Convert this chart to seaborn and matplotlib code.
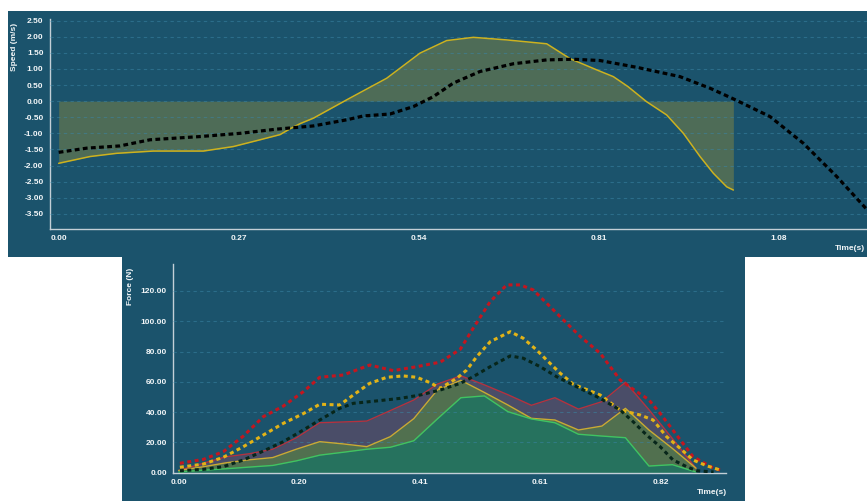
import numpy as np
import pandas as pd
import matplotlib
matplotlib.use("Agg")
import matplotlib.pyplot as plt
import seaborn as sns
from matplotlib.ticker import FixedLocator, FixedFormatter

sns.set_style("white")
plt.rcParams["font.family"] = ["Liberation Sans", "DejaVu Sans"]
plt.rcParams["font.weight"] = "bold"

# ---------------- speed panel data ----------------
speed_t = [0.000, 0.047, 0.087, 0.142, 0.217, 0.262, 0.302, 0.332, 0.347, 0.362,
           0.382, 0.432, 0.492, 0.542, 0.582, 0.622, 0.672, 0.732, 0.767, 0.807,
           0.832, 0.854, 0.882, 0.912, 0.937, 0.962, 0.982, 1.002, 1.012]
speed_v = [-1.93, -1.72, -1.62, -1.55, -1.55, -1.41, -1.20, -1.04, -0.86, -0.70,
           -0.53, 0.04, 0.71, 1.49, 1.88, 1.98, 1.90, 1.78, 1.32, 0.97,
           0.76, 0.45, -0.02, -0.43, -1.00, -1.72, -2.24, -2.66, -2.76]

ref_speed_t = [0.000, 0.042, 0.092, 0.137, 0.212, 0.272, 0.327, 0.382, 0.432, 0.457,
               0.497, 0.532, 0.562, 0.592, 0.632, 0.682, 0.732, 0.772, 0.812, 0.867,
               0.932, 0.977, 1.012, 1.067, 1.117, 1.167, 1.213]
ref_speed_v = [-1.59, -1.46, -1.39, -1.20, -1.10, -1.00, -0.87, -0.77, -0.58, -0.46,
               -0.40, -0.17, 0.14, 0.56, 0.92, 1.16, 1.28, 1.30, 1.26, 1.05,
               0.76, 0.40, 0.07, -0.48, -1.31, -2.34, -3.38]

speed_yticks = [2.5, 2.0, 1.5, 1.0, 0.5, 0.0, -0.5, -1.0, -1.5, -2.0, -2.5, -3.0, -3.5]
speed_xticks = [0.00, 0.27, 0.54, 0.81, 1.08]
speed_xlabels = ["0.00", "0.27", "0.54", "0.81", "1.08"]
speed_xminor = [0.135, 0.405, 0.675, 0.945, 1.215]

# ---------------- force panel data ----------------
force_t = [0.00, 0.04, 0.08, 0.12, 0.16, 0.20, 0.24, 0.28, 0.32, 0.36, 0.40, 0.44,
           0.48, 0.52, 0.56, 0.60, 0.64, 0.68, 0.72, 0.76, 0.80, 0.84, 0.88]
force_red = [1.5, 6.0, 10.5, 12.5, 15.5, 23.0, 33.0, 33.5, 34.1, 41.0, 48.0, 58.5,
             64.0, 58.0, 51.5, 44.5, 49.5, 42.0, 46.9, 59.7, 41.6, 22.5, 2.9]
force_yellow = [1.5, 3.8, 6.5, 8.5, 10.0, 15.5, 20.5, 19.0, 17.2, 23.8, 35.7, 54.6,
                61.0, 53.0, 44.7, 35.9, 34.8, 28.2, 30.8, 42.5, 28.2, 16.0, 3.0]
force_green = [0.5, 1.6, 2.6, 3.7, 4.8, 7.8, 11.6, 13.5, 15.5, 16.8, 21.1, 35.5,
               49.5, 50.7, 40.3, 35.5, 33.0, 25.4, 24.2, 23.1, 4.4, 5.3, 0.5]

ref_red_t = [0.002, 0.042, 0.076, 0.110, 0.144, 0.178, 0.212, 0.240, 0.280, 0.325,
             0.365, 0.405, 0.445, 0.479, 0.501, 0.530, 0.558, 0.581, 0.603, 0.632,
             0.660, 0.683, 0.717, 0.751, 0.779, 0.799, 0.819, 0.847, 0.875, 0.910, 0.926]
ref_red_v = [6.2, 8.8, 13.9, 24.2, 37.0, 44.0, 53.5, 63.0, 64.5, 71.1,
             67.4, 70.0, 73.0, 81.5, 95.4, 113.0, 124.0, 124.0, 120.7, 109.6,
             98.7, 90.0, 78.9, 61.2, 53.5, 48.5, 39.2, 24.9, 10.6, 2.9, 1.3]

ref_yellow_t = [0.002, 0.042, 0.076, 0.110, 0.144, 0.178, 0.212, 0.240, 0.274, 0.297,
                0.325, 0.354, 0.382, 0.405, 0.428, 0.445, 0.473, 0.490, 0.507, 0.530,
                0.564, 0.586, 0.609, 0.626, 0.649, 0.671, 0.717, 0.751, 0.785, 0.807,
                0.830, 0.853, 0.875, 0.898, 0.921]
ref_yellow_v = [3.6, 5.7, 10.2, 17.2, 24.9, 32.6, 39.0, 45.2, 44.7, 51.3,
                59.0, 63.0, 63.9, 63.0, 59.4, 55.7, 62.3, 67.8, 76.6, 86.5,
                93.1, 88.8, 81.0, 74.4, 65.7, 58.5, 51.3, 41.4, 38.1, 34.8,
                23.8, 16.1, 8.4, 4.6, 1.8]

ref_dark_t = [0.002, 0.042, 0.076, 0.110, 0.144, 0.178, 0.212, 0.240, 0.274, 0.297,
              0.337, 0.377, 0.411, 0.445, 0.479, 0.501, 0.530, 0.564, 0.586, 0.615,
              0.643, 0.677, 0.717, 0.751, 0.773, 0.796, 0.819, 0.841, 0.864, 0.881, 0.910]
ref_dark_v = [1.3, 2.2, 4.0, 8.4, 14.3, 20.5, 28.2, 34.8, 42.5, 45.8,
              47.4, 49.1, 51.3, 54.6, 59.0, 63.4, 70.0, 77.1, 75.6, 70.0,
              63.4, 56.8, 49.1, 41.4, 33.7, 24.9, 17.2, 8.4, 4.0, 1.3, 0.5]

force_yticks = [0, 20, 40, 60, 80, 100, 120]
force_xticks = [0.0, 0.205, 0.41, 0.615, 0.82]
force_xlabels = ["0.00", "0.20", "0.41", "0.61", "0.82"]
force_xminor = [0.1025, 0.3075, 0.5125, 0.7175, 0.9225]

# ---------------- colours ----------------
BG = "#1b536c"
GRID = "#3a84a3"
AXIS = "#c3cfd7"
TXT = "#f2f6f8"
OLIVE = "#4e6c57"
YELLOW_LINE = "#cdb21f"
RED_FILL = "#4a4d68"
YEL_FILL = "#51704f"
GRN_FILL = "#26725e"
RED_LINE = "#b4323f"
YEL_LINE2 = "#c9ab33"
GRN_LINE = "#3fc462"
RED_DOT = "#c3161f"
YEL_DOT = "#e2b317"
DARK_DOT = "#07261a"

W, H = 867, 501
fig = plt.figure(figsize=(W / 100, H / 100), dpi=100)
fig.patch.set_facecolor("white")


def px_box(x0, y0, x1, y1):
    return [x0 / W, 1 - y1 / H, (x1 - x0) / W, (y1 - y0) / H]


def style_axes(ax):
    ax.set_facecolor("none")
    for s in ("top", "right"):
        ax.spines[s].set_visible(False)
    for s in ("left", "bottom"):
        ax.spines[s].set_color(AXIS)
        ax.spines[s].set_linewidth(1.0)
    ax.tick_params(which="both", direction="out", length=3.2, width=0.9,
                   color=AXIS, labelcolor=TXT, labelsize=6, pad=1.5)
    # grid sits above the filled areas but below the curves
    ax.set_axisbelow(False)
    ax.grid(axis="y", color=GRID, alpha=0.55, linestyle=(0, (3, 3)), linewidth=0.8)
    ax.grid(axis="x", visible=False)
    ax.set_xlabel("")
    ax.set_ylabel("")
    for lbl in ax.get_xticklabels() + ax.get_yticklabels():
        lbl.set_fontweight("bold")


# ---------------- speed panel ----------------
bg1 = fig.add_axes(px_box(8, 11, 900, 257), zorder=0)
bg1.set_facecolor(BG)
bg1.set_xticks([]); bg1.set_yticks([])
for s in bg1.spines.values():
    s.set_visible(False)

ax1 = fig.add_axes(px_box(50, 19.3, 900, 228.7), zorder=1)
ax1.fill_between(speed_t, speed_v, 0, color=OLIVE, linewidth=0, zorder=2)
sns.lineplot(x=speed_t, y=speed_v, ax=ax1, color=YELLOW_LINE, linewidth=1.1,
             estimator=None, sort=False, zorder=3)
sns.lineplot(x=ref_speed_t, y=ref_speed_v, ax=ax1, color="black", linewidth=2.3,
             linestyle=(0, (1.5, 1.05)), estimator=None, sort=False, zorder=4)
ax1.set_xlim(-0.013, -0.013 + 850 / 666.7)
ax1.set_ylim(-3.96, 2.54)
ax1.yaxis.set_major_locator(FixedLocator(speed_yticks))
ax1.set_yticklabels([f"{v:.2f}" for v in speed_yticks])
ax1.xaxis.set_major_locator(FixedLocator(speed_xticks))
ax1.xaxis.set_major_formatter(FixedFormatter(speed_xlabels))
ax1.xaxis.set_minor_locator(FixedLocator(speed_xminor))
style_axes(ax1)

fig.text(15 / W, 1 - 23 / H, "Speed (m/s)", rotation=90, ha="center", va="top",
         color=TXT, fontsize=6, fontweight="bold")
fig.text(865 / W, 1 - 248 / H, "Time(s)", ha="right", va="center",
         color=TXT, fontsize=6, fontweight="bold")

# ---------------- force panel ----------------
bg2 = fig.add_axes(px_box(122, 257, 745, 505), zorder=2)
bg2.set_facecolor(BG)
bg2.set_xticks([]); bg2.set_yticks([])
for s in bg2.spines.values():
    s.set_visible(False)

ax2 = fig.add_axes(px_box(173.3, 264.3, 726, 472.7), zorder=3)
for vals, fill_c, line_c in ((force_red, RED_FILL, RED_LINE),
                             (force_yellow, YEL_FILL, YEL_LINE2),
                             (force_green, GRN_FILL, GRN_LINE)):
    ax2.fill_between(force_t, vals, 0, color=fill_c, linewidth=0, zorder=2)
    sns.lineplot(x=force_t, y=vals, ax=ax2, color=line_c, linewidth=1.0,
                 estimator=None, sort=False, zorder=3)

for tt, vv, c in ((ref_red_t, ref_red_v, RED_DOT),
                  (ref_yellow_t, ref_yellow_v, YEL_DOT),
                  (ref_dark_t, ref_dark_v, DARK_DOT)):
    sns.lineplot(x=tt, y=vv, ax=ax2, color=c, linewidth=2.2,
                 linestyle=(0, (1.3, 1.15)), estimator=None, sort=False, zorder=4)

ax2.set_xlim(-5.4 / 587.8, (726 - 178.7) / 587.8)
ax2.set_ylim(0, 137.6)
ax2.yaxis.set_major_locator(FixedLocator(force_yticks))
ax2.set_yticklabels([f"{v:.2f}" for v in force_yticks])
ax2.xaxis.set_major_locator(FixedLocator(force_xticks))
ax2.xaxis.set_major_formatter(FixedFormatter(force_xlabels))
ax2.xaxis.set_minor_locator(FixedLocator(force_xminor))
style_axes(ax2)

fig.text(130 / W, 1 - 268 / H, "Force (N)", rotation=90, ha="center", va="top",
         color=TXT, fontsize=6, fontweight="bold")
fig.text(727 / W, 1 - 493 / H, "Time(s)", ha="right", va="center",
         color=TXT, fontsize=6, fontweight="bold")

fig.savefig("out.png", dpi=100, facecolor="white")
